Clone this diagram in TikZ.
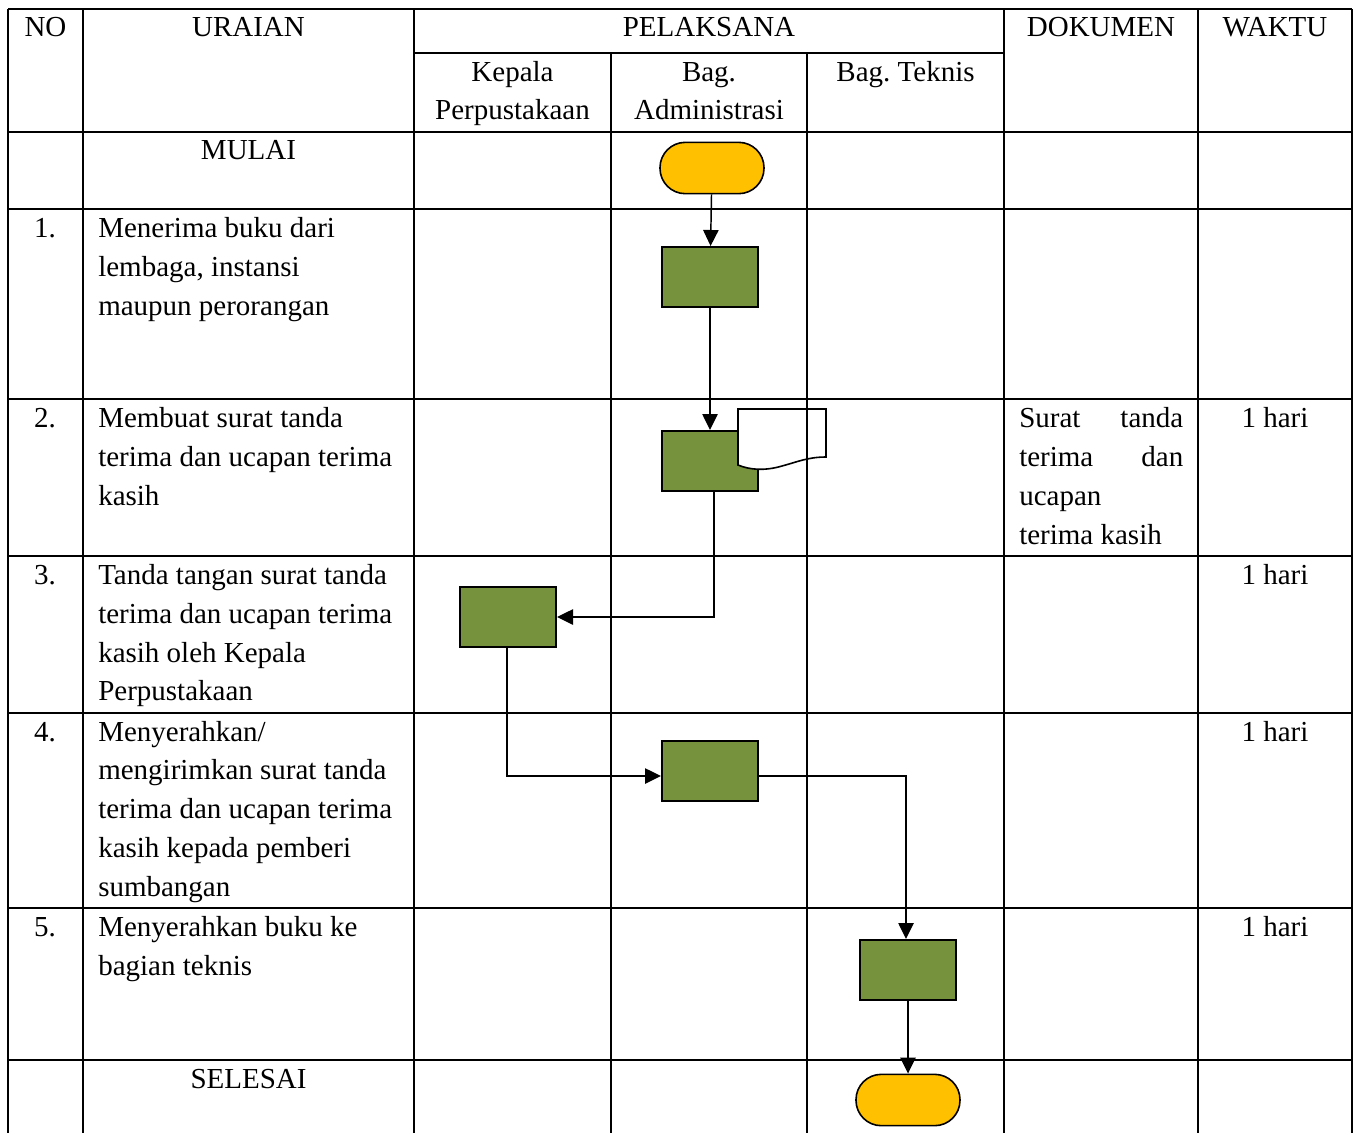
\documentclass[tikz,border=0pt]{standalone}
\usepackage{fontspec}
\setmainfont{Liberation Serif}
\usetikzlibrary{arrows.meta}
\definecolor{procgreen}{HTML}{76923C}
\definecolor{termyellow}{HTML}{FFC000}
\frenchspacing
\begin{document}
\begin{tikzpicture}[x=0.75pt,y=-0.75pt,
  gridline/.style={line width=0.8pt},
  proc/.style={draw, line width=1.5pt, fill=procgreen, minimum width=72pt, minimum height=45pt, inner sep=0pt},
  term/.style={draw, line width=1.2pt, fill=termyellow, minimum width=78pt, minimum height=38.5pt, rounded corners=19pt, inner sep=0pt},
  flow/.style={line width=1.1pt, -{Triangle[length=12pt,width=11.5pt]}},
  txt/.style={inner sep=0pt, font=\fontsize{21.75pt}{29.25pt}\selectfont},
  lt/.style={txt, anchor=base west},
  ct/.style={txt, anchor=base}]
\useasboundingbox (0,0) rectangle (1357,1133);
\fill[white] (0,0) rectangle (1357,1133);

% flow shapes
\node[term] (start) at (712,168) {};
\node[proc] (b1) at (710,277) {};
\node[proc] (b2) at (710,461) {};
\node[proc] (b3) at (508,617) {};
\node[proc] (b4) at (710,771) {};
\node[proc] (b5) at (908,970) {};
\node[term] (finish) at (908,1100) {};

% document symbol
\coordinate (doc) at (782,437);
\draw[line width=1.2pt, fill=white] (738,409) -- (826,409) -- (826,457)
  .. controls (808,457) and (797,462) .. (782,466)
  .. controls (765,471) and (750,470) .. (738,465) -- cycle;

% table grid
\foreach \x in {8,83,414,1004,1198,1352} \draw[gridline] (\x,9) -- (\x,1133);
\foreach \x in {611,807} \draw[gridline] (\x,53) -- (\x,1133);
\draw[gridline] (8,9) -- (1352,9);
\draw[gridline] (414,53) -- (1004,53);
\foreach \y in {132,209,399,556,713,908,1060} \draw[gridline] (8,\y) -- (1352,\y);

% connectors
\draw[flow] (start) -- (b1);
\draw[flow] (b1) -- (b2);
\draw[flow] ([xshift=3pt]b2.south) |- (b3.east);
\draw[flow] ([xshift=-0.75pt]b3.south) |- ([yshift=-3.75pt]b4.west);
\draw[flow] ([yshift=-3.75pt]b4.east) -| ([xshift=-1.5pt]b5.north);
\draw[flow] (b5) -- (finish);

% header
\node[ct] (hno) at (45.5,36) {NO};
\node[ct] (hur) at (248.5,36) {URAIAN};
\node[ct] (hpel) at (709,36) {PELAKSANA};
\node[ct] (hkp1) at (512.5,81) {Kepala};
\node[ct] (hkp2) at (512.5,119) {Perpustakaan};
\node[ct] (hba1) at (709,81) {Bag.};
\node[ct] (hba2) at (709,119) {Administrasi};
\node[ct] (hbt) at (905.5,81) {Bag. Teknis};
\node[ct] (hdok) at (1101,36) {DOKUMEN};
\node[ct] (hwak) at (1275,36) {WAKTU};

% mulai
\node[ct] (mulai) at (248.5,159) {MULAI};

% row 1
\node[ct] (n1) at (45,237) {1.};
\node[lt] (r1a) at (98,237) {Menerima buku dari};
\node[lt] (r1b) at (98,276) {lembaga, instansi};
\node[lt] (r1c) at (98,315) {maupun perorangan};

% row 2
\node[ct] (n2) at (45,427) {2.};
\node[lt] (r2a) at (98,427) {Membuat surat tanda};
\node[lt] (r2b) at (98,466) {terima dan ucapan terima};
\node[lt] (r2c) at (98,505) {kasih};
\node[lt] (d1) at (1019,427) {\makebox[123pt][s]{Surat\hfill tanda}};
\node[lt] (d2) at (1019,466) {\makebox[123pt][s]{terima\hfill dan}};
\node[lt] (d3) at (1019,505) {ucapan};
\node[lt] (d4) at (1019,544) {terima kasih};
\node[ct] (w2) at (1275,427) {1 hari};

% row 3
\node[ct] (n3) at (45,584) {3.};
\node[lt] (r3a) at (98,584) {Tanda tangan surat tanda};
\node[lt] (r3b) at (98,623) {terima dan ucapan terima};
\node[lt] (r3c) at (98,662) {kasih oleh Kepala};
\node[lt] (r3d) at (98,700) {Perpustakaan};
\node[ct] (w3) at (1275,584) {1 hari};

% row 4
\node[ct] (n4) at (45,741) {4.};
\node[lt] (r4a) at (98,741) {Menyerahkan/};
\node[lt] (r4b) at (98,779) {mengirimkan surat tanda};
\node[lt] (r4c) at (98,818) {terima dan ucapan terima};
\node[lt] (r4d) at (98,857) {kasih kepada pemberi};
\node[lt] (r4e) at (98,896) {sumbangan};
\node[ct] (w4) at (1275,741) {1 hari};

% row 5
\node[ct] (n5) at (45,936) {5.};
\node[lt] (r5a) at (98,936) {Menyerahkan buku ke};
\node[lt] (r5b) at (98,975) {bagian teknis};
\node[ct] (w5) at (1275,936) {1 hari};

% selesai
\node[ct] (selesai) at (248.5,1088) {SELESAI};
\end{tikzpicture}
\end{document}
